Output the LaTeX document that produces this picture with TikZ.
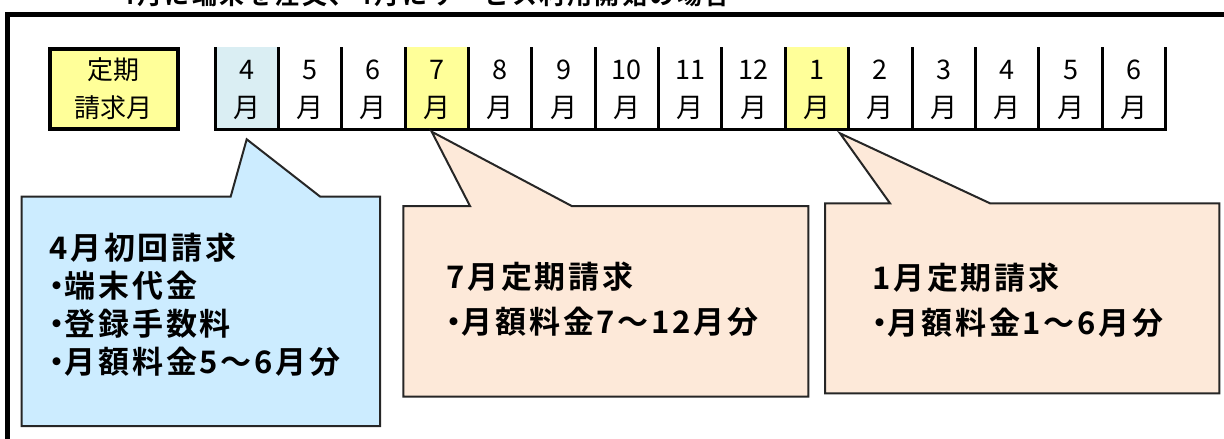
\documentclass[tikz,border=0pt]{standalone}
\usepackage{fontspec}
\setmainfont{Noto Sans CJK JP}[BoldFont={Noto Sans CJK JP Bold}]
\definecolor{yel}{HTML}{FFFF99}
\definecolor{cellblue}{HTML}{DAEEF3}
\definecolor{callblue}{HTML}{CCECFF}
\definecolor{peach}{HTML}{FDE9D9}
\newcommand\jdot{\makebox[0.5em][c]{・}}
\tikzset{
  frameline/.style={line width=5pt, line join=miter},
  labelbox/.style={draw, line width=4pt, fill=yel, minimum width=128.5pt, minimum height=80.6pt, inner sep=0pt, align=center, font=\fontsize{26}{38}\selectfont},
  cellbg/.style={minimum width=63.37pt, minimum height=82.4pt, inner sep=0pt, outer sep=0pt},
  celltxt/.style={font=\fontsize{27}{27}\selectfont, inner sep=0pt},
  cellline/.style={line width=3pt},
  callout/.style={draw=black!85, line width=2pt, line join=miter},
  calltxt/.style={font=\bfseries\fontsize{31}{#1}\selectfont\addfontfeature{LetterSpace=9}, align=left, inner sep=0pt, anchor=west},
  titletxt/.style={font=\bfseries\fontsize{25}{25}\selectfont\addfontfeature{LetterSpace=10}, inner sep=0pt, anchor=base west},
}
\begin{document}
\begin{tikzpicture}[x=1pt,y=-1pt]
\useasboundingbox (0,0) rectangle (1224,439);
\clip (0,0) rectangle (1224,439);
% title (cut off at the top, as in the reference)
\node[titletxt] (title) at (120,5) {4月に端末を注文、4月にサービス利用開始の場合};
% outer frame
\draw[frameline] (7.5,470) -- (7.5,14.2) -- (1260,14.2);
% label box
\node[labelbox] (label) at (113.75,89) {定期\\請求月};
% month cells
\foreach \i/\m/\c in {0/4/cellblue,1/5/white,2/6/white,3/7/yel,4/8/white,5/9/white,6/10/white,7/11/white,8/12/white,9/1/yel,10/2/white,11/3/white,12/4/white,13/5/white,14/6/white}{
  \pgfmathsetmacro\cx{215+63.37*(\i+0.5)}
  \node[cellbg, fill=\c] (c\i) at (\cx,88.5) {};
  \node[celltxt] (n\i) at (\cx,70) {\m};
  \node[celltxt] (m\i) at (\cx,108) {月};
}
\foreach \i in {0,...,15}{
  \draw[cellline] ({215+63.37*\i},47.3) -- ({215+63.37*\i},129.7);
}
\draw[cellline, line cap=rect] (c0.south west) -- (c14.south east);
% callout 1 (blue)
\draw[callout, fill=callblue] (21.7,196.5) -- (230.7,196.5) -- (246.7,139.3) -- (320,196.5) -- (380,196.5) -- (380,426) -- (21.7,426) -- cycle;
\node[calltxt=38] (t1) at (49,304.5) {4月初回請求\\\jdot 端末代金\\\jdot 登録手数料\\\jdot 月額料金5～6月分};
% callout 2 (July)
\draw[callout, fill=peach] (403.3,206) -- (470,206) -- (431.7,131.7) -- (571.7,206) -- (808.3,206) -- (808.3,396.7) -- (403.3,396.7) -- cycle;
\node[calltxt=45] (t2) at (446,299.5) {7月定期請求\\\jdot 月額料金7～12月分};
% callout 3 (January)
\draw[callout, fill=peach] (825,203.3) -- (890,203.3) -- (840,133.3) -- (990,203.3) -- (1219.3,203.3) -- (1219.3,393.3) -- (825,393.3) -- cycle;
\node[calltxt=45] (t3) at (872,300) {1月定期請求\\\jdot 月額料金1～6月分};
\end{tikzpicture}
\end{document}
